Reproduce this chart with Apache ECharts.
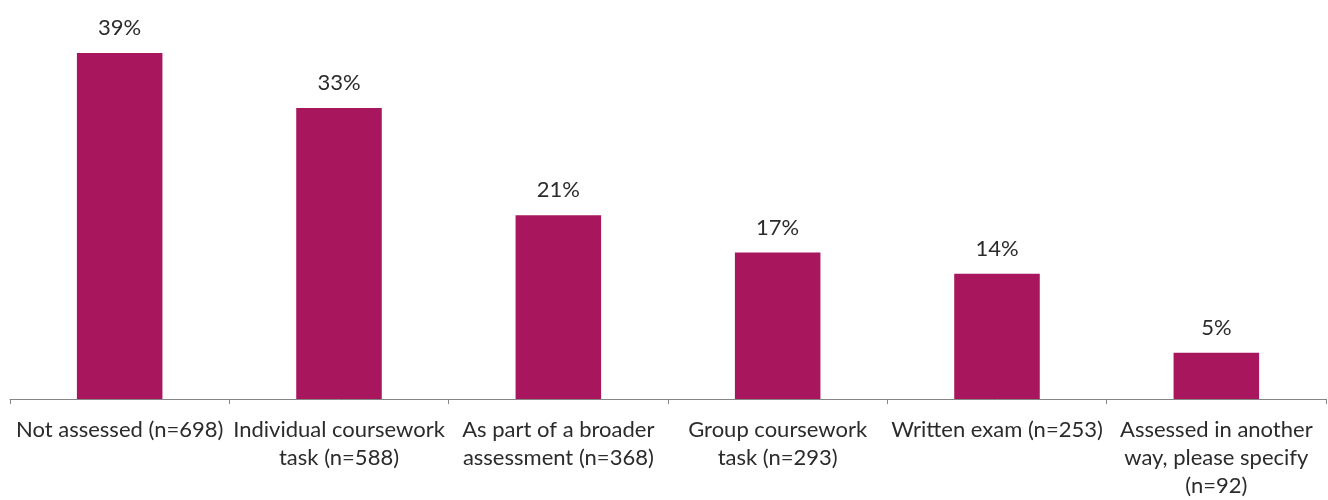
<!DOCTYPE html>
<html><head><meta charset="utf-8">
<script src="https://cdn.jsdelivr.net/npm/echarts@6/dist/echarts.min.js"></script>
<style>html,body{margin:0;padding:0;background:#fff}#c{width:1328px;height:500px}</style>
</head><body><div id="c"></div>
<script>
const categories = ["Not assessed (n=698)", "Individual coursework\ntask (n=588)", "As part of a broader\nassessment (n=368)", "Group coursework\ntask (n=293)", "Written exam (n=253)", "Assessed in another\nway, please specify\n(n=92)"];
const values = [39.0, 32.8, 20.7, 16.5, 14.1, 5.2];
const chart = echarts.init(document.getElementById('c'));
chart.setOption({
  animation: false,
  grid: {left: 10, right: 2, top: 44, bottom: 99, containLabel: false},
  xAxis: {
    type: 'category', data: categories,
    axisLine: {lineStyle: {color: '#868686', width: 1}},
    axisTick: {show: true, length: 5, lineStyle: {color: '#868686'}},
    axisLabel: {interval: 0, color: '#2b2b2b', fontFamily: 'Lato', fontSize: 22, lineHeight: 28, margin: 17}
  },
  yAxis: {type: 'value', min: 0, max: 40, show: false, splitLine: {show: false}},
  series: [{
    type: 'bar', data: values, barWidth: '39%',
    itemStyle: {color: '#A8175D'},
    label: {show: true, position: 'top', distance: 14, color: '#2b2b2b', fontFamily: 'Lato', fontSize: 22, lineHeight: 22,
      formatter: p => Math.round(p.value) + '%'}
  }]
});
</script></body></html>
